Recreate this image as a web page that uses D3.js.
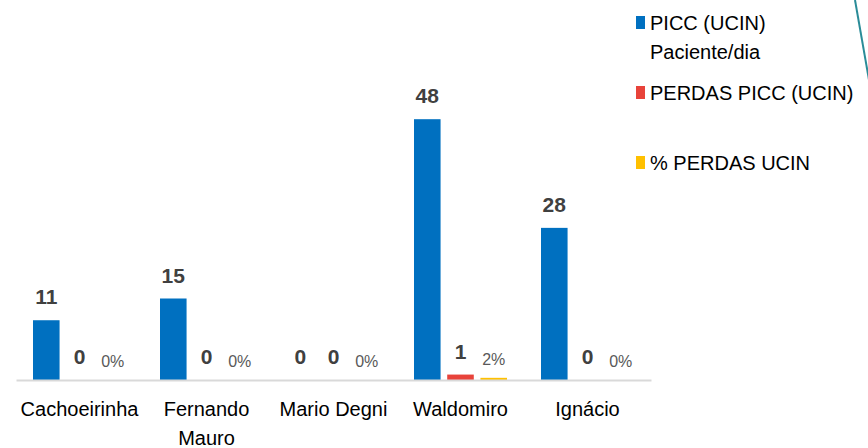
<!DOCTYPE html>
<html>
<head>
  <meta charset="utf-8">
  <script src="https://cdn.jsdelivr.net/npm/d3@7"></script>
  <style>
    body { margin: 0; background: #fff; }
    svg { display: block; }
    text { font-family: "Liberation Sans", Arial, sans-serif; }
  </style>
</head>
<body>
  <svg width="868" height="448"></svg>
  <script>
    // chart data
    var categories = ["Cachoeirinha", "Fernando Mauro", "Mario Degni", "Waldomiro", "Ignácio"];
    var seriesNames = ["PICC (UCIN) Paciente/dia", "PERDAS PICC (UCIN)", "% PERDAS UCIN"];
    var picc = [11, 15, 0, 48, 28];
    var perdas = [0, 0, 0, 1, 0];
    var pctPerdas = [0, 0, 0, 0.02, 0];

    var colors = ["#0070C0", "#E8433A", "#FFC000"];

    var svg = d3.select("svg");

    var x0 = d3.scaleBand().domain(categories).range([16, 651]);
    var x1 = d3.scaleBand().domain(d3.range(3)).range([17, 110]).paddingInner(0.2);
    var y = d3.scaleLinear().domain([0, 60]).range([380, 54]);
    // percent series sits on its own (hidden) secondary axis
    var yPct = d3.scaleLinear().domain([0, 3]).range([380, 54]);

    // decorative slide line top right
    svg.append("line")
      .attr("x1", 855).attr("y1", 0)
      .attr("x2", 869).attr("y2", 80)
      .style("stroke", "#2A8C98")
      .style("stroke-width", 2);

    var rows = categories.map(function(c, i) {
      return [
        { cat: c, s: 0, v: picc[i], yy: y(picc[i]), label: String(picc[i]) },
        { cat: c, s: 1, v: perdas[i], yy: y(perdas[i]), label: String(perdas[i]) },
        { cat: c, s: 2, v: pctPerdas[i], yy: yPct(pctPerdas[i]), label: d3.format(".0%")(pctPerdas[i]) }
      ];
    });
    var flat = d3.merge(rows);

    //bars
    svg.append("g")
      .selectAll("rect")
      .data(flat.filter(function(d) { return d.v > 0; }))
      .enter()
      .append("rect")
      .attr("x", function(d) { return x0(d.cat) + x1(d.s); })
      .attr("width", x1.bandwidth())
      .attr("y", function(d) { return d.yy; })
      .attr("height", function(d) { return 380 - d.yy; })
      .attr("fill", function(d) { return colors[d.s]; });

    //axis baseline
    var xAxis = d3.axisBottom(x0).tickSize(0).tickFormat("");
    var ax = svg.append("g").attr("transform", "translate(0,380)").call(xAxis);
    ax.select(".domain").style("stroke", "#D9D9D9").style("stroke-width", 2);

    //value labels
    svg.append("g")
      .selectAll("text")
      .data(flat)
      .enter()
      .append("text")
      .attr("x", function(d) { return x0(d.cat) + x1(d.s) + x1.bandwidth() / 2; })
      .attr("y", function(d) { return d.s == 2 ? d.yy - 13 : d.yy - 16; })
      .attr("text-anchor", "middle")
      .style("font-size", function(d) { return d.s == 2 ? "16px" : "21px"; })
      .style("font-weight", function(d) { return d.s == 2 ? "normal" : "bold"; })
      .style("fill", function(d) { return d.s == 2 ? "#595959" : "#404040"; })
      .text(function(d) { return d.label; });

    //category labels, wrapped to the band width
    var catText = svg.append("g")
      .selectAll("text")
      .data(categories)
      .enter()
      .append("text")
      .attr("x", function(d) { return x0(d) + x0.bandwidth() / 2; })
      .attr("y", 416)
      .attr("text-anchor", "middle")
      .style("font-size", "20px")
      .style("fill", "#000");
    catText.each(function(d) { wrap(d3.select(this), d, x0.bandwidth() - 4, 29); });

    //legend
    var legend = svg.append("g")
      .selectAll("g")
      .data(seriesNames)
      .enter()
      .append("g")
      .attr("transform", function(d, i) { return "translate(636," + (16 + i * 70) + ")"; });

    legend.append("rect")
      .attr("width", 9)
      .attr("height", 13)
      .attr("fill", function(d, i) { return colors[i]; });

    legend.append("text")
      .attr("x", 14)
      .attr("y", 14)
      .style("font-size", "20px")
      .style("fill", "#000")
      .each(function(d) { wrap(d3.select(this), d, 212, 29); });

    function wrap(sel, str, maxW, lh) {
      var words = str.split(" ");
      var lines = [];
      var cur = "";
      var probe = sel.append("tspan");
      words.forEach(function(w) {
        var t = cur ? cur + " " + w : w;
        probe.text(t);
        if (probe.node().getComputedTextLength() > maxW && cur) {
          lines.push(cur);
          cur = w;
        } else {
          cur = t;
        }
      });
      lines.push(cur);
      probe.remove();
      var x = sel.attr("x");
      lines.forEach(function(l, i) {
        sel.append("tspan")
          .attr("x", x)
          .attr("dy", i == 0 ? 0 : lh)
          .text(l);
      });
    }
  </script>
</body>
</html>
